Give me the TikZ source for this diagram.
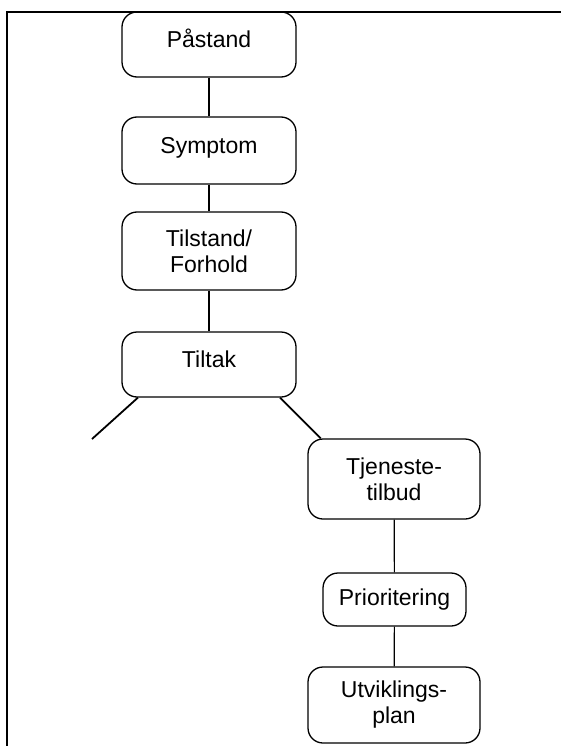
\documentclass[tikz,border=0pt]{standalone}
\usepackage{fontspec}
\setmainfont{Liberation Sans}
\begin{document}
\begin{tikzpicture}[x=1pt,y=-1pt,
    box/.style={rectangle,draw,rounded corners=15pt,line width=1.3pt,minimum width=174pt,minimum height=65pt,align=center,inner sep=0pt,font=\fontsize{23}{26}\selectfont},
    single/.style={text height=16pt,text depth=10pt},
    link/.style={line width=1.2pt},
    branch/.style={line width=1.8pt}
  ]
  \useasboundingbox (0,0) rectangle (561,746);
  % frame
  \draw[line width=2pt] (7,746) -- (7,12) -- (561,12);

  % left column
  \node[box,single] (pas) at (209,44.5)   {Påstand};
  \node[box,single,minimum height=67pt] (sym) at (209,150.5) {Symptom};
  \node[box,minimum height=78pt] (til) at (209,251) {Tilstand/\\Forhold};
  \node[box,single] (tak) at (209,364.5)  {Tiltak};
  \draw[link] (pas) -- (sym); \draw[link] (sym) -- (til); \draw[link] (til) -- (tak);

  % right column
  \node[box,minimum width=172pt,minimum height=80pt] (tje) at (394,479) {Tjeneste-\\tilbud};
  \node[box,minimum width=143pt,minimum height=53pt] (pri) at (394.5,599.5) {Prioritering};
  \node[box,minimum width=172pt,minimum height=76pt] (utv) at (394,705) {Utviklings-\\plan};
  \draw[link] (tje) -- (pri); \draw[link] (pri) -- (utv);

  % branches
  \coordinate (open) at (92,439);
  \draw[branch] (tak.205) -- (open);
  \draw[branch] (tak.-25) -- (tje.151);
\end{tikzpicture}
\end{document}
